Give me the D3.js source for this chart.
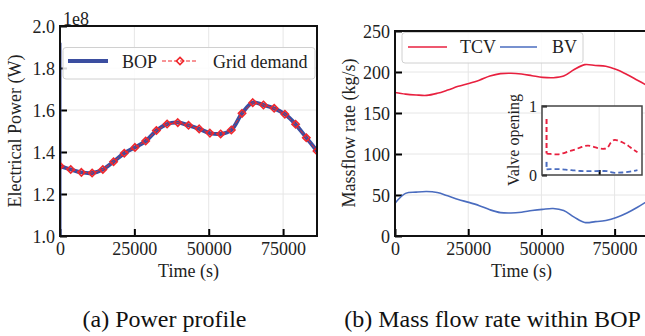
<!DOCTYPE html>
<html>
<head>
<meta charset="utf-8">
<script src="https://cdn.jsdelivr.net/npm/d3@7"></script>
<style>
  body { margin: 0; background: #fff; }
  svg { display: block; font-family: "Liberation Serif", "Times New Roman", serif; }
</style>
</head>
<body>
<div id="chart"></div>
<script>
// Hourly time stamps (s)
var hours = [0, 3600, 7200, 10800, 14400, 18000, 21600, 25200, 28800, 32400, 36000, 39600, 43200,
    46800, 50400, 54000, 57600, 61200, 64800, 68400, 72000, 75600, 79200, 82800, 86400];

// (a) Power profile, in units of 1e8 W
var gridDemand = [1.333, 1.317, 1.303, 1.300, 1.317, 1.354, 1.394, 1.422, 1.452, 1.502, 1.533, 1.540, 1.527,
    1.510, 1.490, 1.486, 1.505, 1.584, 1.635, 1.624, 1.608, 1.580, 1.532, 1.468, 1.405];
var bopPower = [1.333, 1.317, 1.303, 1.300, 1.317, 1.354, 1.394, 1.422, 1.452, 1.502, 1.533, 1.540, 1.527,
    1.510, 1.490, 1.486, 1.505, 1.584, 1.635, 1.624, 1.608, 1.580, 1.532, 1.468, 1.405];
// start-up transient of the BOP at t = 0
var bopStartup = [0.90, 1.92, 1.333];

// (b) Mass flow rate (kg/s)
var tcvFlow = [175, 173, 172, 171.5, 174, 178, 182.5, 186, 190, 195, 198, 198.5, 197.5,
    195.5, 193.5, 193, 195, 203, 209, 208, 207, 203, 197, 190, 183];
var bvFlow = [40, 52, 53.5, 54.3, 53, 49, 44.5, 41, 37, 32, 28.5, 28, 29,
    31, 32.5, 33.5, 31, 23, 16.5, 17.5, 19, 22.5, 28, 35, 43];
var tcvStartup = [225, 175];
var bvStartup = [111, 38, 40];

// Inset: valve opening
var tcvOpening = [0.31, 0.305, 0.30, 0.30, 0.31, 0.325, 0.345, 0.36, 0.38, 0.40, 0.42, 0.425, 0.415,
    0.40, 0.385, 0.38, 0.39, 0.47, 0.51, 0.495, 0.475, 0.445, 0.405, 0.365, 0.33];
var bvOpening = [0.08, 0.085, 0.085, 0.085, 0.083, 0.078, 0.072, 0.068, 0.063, 0.058, 0.055, 0.055, 0.055,
    0.057, 0.058, 0.058, 0.055, 0.042, 0.032, 0.033, 0.036, 0.042, 0.05, 0.06, 0.072];
var tcvOpeningStartup = [0.81, 0.31];
var bvOpeningStartup = [0.19, 0.08];

// Tick values
var timeTicks = [0, 25000, 50000, 75000];
var powerTicks = [1.0, 1.2, 1.4, 1.6, 1.8, 2.0];
var flowTicks = [0, 50, 100, 150, 200, 250];
var insetTimeTicks = [50000];
var insetOpeningTicks = [0, 1];

var width = 645, height = 336;
var gridColor = "#e6e6e6";
var bopColor = "#3b4ea0";
var demandColor = "#f0282d";
var tcvColor = "#e8203f";
var bvColor = "#4a6cbf";

var svg = d3.select("#chart").append("svg")
    .attr("width", width)
    .attr("height", height);

var defs = svg.append("defs");

// Draw grid, ticks and spines for one axes box
function drawAxes(g, x, y, xTicks, yTicks, opts) {
    var x0 = x.range()[0], x1 = x.range()[1];
    var y0 = y.range()[0], y1 = y.range()[1];

    if (opts.background) {
        g.append("rect")
            .attr("x", x0).attr("y", y1)
            .attr("width", x1 - x0).attr("height", y0 - y1)
            .attr("fill", "#fff");
    }

    // grid
    g.selectAll(".gx").data(xTicks).enter().append("line")
        .attr("x1", d => x(d)).attr("x2", d => x(d))
        .attr("y1", y0).attr("y2", y1)
        .attr("stroke", gridColor).attr("stroke-width", 1);
    if (opts.yGrid) {
        g.selectAll(".gy").data(yTicks).enter().append("line")
            .attr("x1", x0).attr("x2", x1)
            .attr("y1", d => y(d)).attr("y2", d => y(d))
            .attr("stroke", gridColor).attr("stroke-width", 1);
    }

    // inward axes
    var xAxis = d3.axisBottom(x).tickValues(xTicks).tickSizeInner(-opts.tick).tickSizeOuter(0)
        .tickFormat(opts.xFormat);
    var yAxis = d3.axisLeft(y).tickValues(yTicks).tickSizeInner(-opts.tick).tickSizeOuter(0)
        .tickFormat(opts.yFormat);

    var gx = g.append("g").attr("transform", "translate(0," + y0 + ")").call(xAxis);
    var gy = g.append("g").attr("transform", "translate(" + x0 + ",0)").call(yAxis);
    [gx, gy].forEach(function (a) {
        a.select(".domain").remove();
        a.selectAll(".tick line").attr("stroke", "#000").attr("stroke-width", 2);
        a.selectAll(".tick text")
            .attr("fill", "#222")
            .style("font-family", "Liberation Serif")
            .style("font-size", opts.font + "px");
    });
    // tick label placement: baseline below the x axis, right edge left of the y axis
    gx.selectAll(".tick text").attr("y", 19).attr("dy", null);
    gy.selectAll(".tick text").attr("x", -5).attr("dy", "0.34em");
    return { gx: gx, gy: gy };
}

function drawSpines(g, x, y, color, w) {
    var x0 = x.range()[0], x1 = x.range()[1];
    var y0 = y.range()[0], y1 = y.range()[1];
    g.append("rect")
        .attr("x", x0).attr("y", y1)
        .attr("width", x1 - x0).attr("height", y0 - y1)
        .attr("fill", "none")
        .attr("stroke", color)
        .attr("stroke-width", w);
}

function clipFor(id, x, y) {
    defs.append("clipPath").attr("id", id).append("rect")
        .attr("x", x.range()[0]).attr("y", y.range()[1])
        .attr("width", x.range()[1] - x.range()[0])
        .attr("height", y.range()[0] - y.range()[1]);
    return "url(#" + id + ")";
}

// ---------------- (a) Power profile ----------------
var xA = d3.scaleLinear().domain([0, 86400]).range([60, 317]);
var yA = d3.scaleLinear().domain([1.0, 2.0]).range([236, 26]);
var gA = svg.append("g");

drawAxes(gA, xA, yA, timeTicks, powerTicks, {
    yGrid: true, tick: 7, font: 18,
    xFormat: d3.format("d"), yFormat: d3.format(".1f")
});

var plotA = gA.append("g").attr("clip-path", clipFor("clipA", xA, yA));

// BOP start-up spike
plotA.append("path")
    .datum(bopStartup)
    .attr("d", d3.line().x(function () { return xA(0); }).y(d => yA(d)))
    .attr("fill", "none").attr("stroke", bopColor).attr("stroke-width", 3);

plotA.append("path")
    .datum(hours.map((t, i) => [t, bopPower[i]]))
    .attr("d", d3.line().x(d => xA(d[0])).y(d => yA(d[1])).curve(d3.curveCatmullRom))
    .attr("fill", "none").attr("stroke", bopColor).attr("stroke-width", 4);

var demandPts = hours.map((t, i) => [t, gridDemand[i]]);
plotA.append("path")
    .datum(demandPts)
    .attr("d", d3.line().x(d => xA(d[0])).y(d => yA(d[1])))
    .attr("fill", "none").attr("stroke", demandColor).attr("stroke-width", 1)
    .attr("stroke-dasharray", "4,2");

var diamond = d3.symbol().type(d3.symbolDiamond2).size(34);
plotA.selectAll(".marker").data(demandPts).enter().append("path")
    .attr("d", diamond)
    .attr("transform", d => "translate(" + xA(d[0]) + "," + yA(d[1]) + ")")
    .attr("fill", "none").attr("stroke", demandColor).attr("stroke-width", 1.6);

drawSpines(gA, xA, yA, "#111", 2);

// offset text and labels
gA.append("text").attr("x", 63).attr("y", 25).text("1e8")
    .style("font-size", "18px").attr("fill", "#222");
gA.append("text").attr("x", 188.5).attr("y", 277).attr("text-anchor", "middle")
    .text("Time (s)").style("font-size", "18px").attr("fill", "#222");
gA.append("text")
    .attr("transform", "translate(21,131) rotate(-90)")
    .attr("text-anchor", "middle")
    .text("Electrical Power (W)").style("font-size", "18px").attr("fill", "#222");

// legend (a)
var legA = gA.append("g");
legA.append("rect").attr("x", 63).attr("y", 47.5).attr("width", 252).attr("height", 31.5)
    .attr("rx", 3).attr("fill", "#fff").attr("fill-opacity", 0.85)
    .attr("stroke", "#d0d0d0").attr("stroke-width", 1);
legA.append("line").attr("x1", 68).attr("x2", 108).attr("y1", 61).attr("y2", 61)
    .attr("stroke", bopColor).attr("stroke-width", 4);
legA.append("text").attr("x", 122).attr("y", 68).text("BOP")
    .style("font-size", "18px").attr("fill", "#222");
legA.append("line").attr("x1", 162).attr("x2", 198).attr("y1", 61).attr("y2", 61)
    .attr("stroke", demandColor).attr("stroke-width", 1).attr("stroke-dasharray", "4,2");
legA.append("path").attr("d", diamond).attr("transform", "translate(180,61)")
    .attr("fill", "none").attr("stroke", demandColor).attr("stroke-width", 1.6);
legA.append("text").attr("x", 213).attr("y", 68).text("Grid demand")
    .style("font-size", "18px").attr("fill", "#222");

// ---------------- (b) Mass flow rate ----------------
var xB = d3.scaleLinear().domain([0, 86400]).range([395, 648]);
var yB = d3.scaleLinear().domain([0, 250]).range([236, 31]);
var gB = svg.append("g");

drawAxes(gB, xB, yB, timeTicks, flowTicks, {
    yGrid: true, tick: 7, font: 18,
    xFormat: d3.format("d"), yFormat: d3.format("d")
});

var plotB = gB.append("g").attr("clip-path", clipFor("clipB", xB, yB));
var flowLine = d3.line().x(d => xB(d[0])).y(d => yB(d[1])).curve(d3.curveCatmullRom);
var startLineB = d3.line().x(function () { return xB(0); }).y(d => yB(d));

plotB.append("path").datum(tcvStartup).attr("d", startLineB)
    .attr("fill", "none").attr("stroke", tcvColor).attr("stroke-width", 1.6);
plotB.append("path").datum(bvStartup).attr("d", startLineB)
    .attr("fill", "none").attr("stroke", bvColor).attr("stroke-width", 1.6);
plotB.append("path").datum(hours.map((t, i) => [t, tcvFlow[i]])).attr("d", flowLine)
    .attr("fill", "none").attr("stroke", tcvColor).attr("stroke-width", 1.6);
plotB.append("path").datum(hours.map((t, i) => [t, bvFlow[i]])).attr("d", flowLine)
    .attr("fill", "none").attr("stroke", bvColor).attr("stroke-width", 1.6);

drawSpines(gB, xB, yB, "#111", 2);

gB.append("text").attr("x", 521.5).attr("y", 277).attr("text-anchor", "middle")
    .text("Time (s)").style("font-size", "18px").attr("fill", "#222");
gB.append("text")
    .attr("transform", "translate(355,133) rotate(-90)")
    .attr("text-anchor", "middle")
    .text("Massflow rate (kg/s)").style("font-size", "18px").attr("fill", "#222");

// legend (b)
var legB = gB.append("g");
legB.append("rect").attr("x", 402).attr("y", 32.5).attr("width", 181).attr("height", 30.5)
    .attr("rx", 3).attr("fill", "#fff").attr("fill-opacity", 0.85)
    .attr("stroke", "#d0d0d0").attr("stroke-width", 1);
legB.append("line").attr("x1", 408).attr("x2", 447).attr("y1", 47).attr("y2", 47)
    .attr("stroke", tcvColor).attr("stroke-width", 1.6);
legB.append("text").attr("x", 460).attr("y", 53).text("TCV")
    .style("font-size", "18px").attr("fill", "#222");
legB.append("line").attr("x1", 500).attr("x2", 537).attr("y1", 47).attr("y2", 47)
    .attr("stroke", bvColor).attr("stroke-width", 1.6);
legB.append("text").attr("x", 552).attr("y", 53).text("BV")
    .style("font-size", "18px").attr("fill", "#222");

// ---------------- inset: valve opening ----------------
var xI = d3.scaleLinear().domain([-4320, 90720]).range([542, 642]);
var yI = d3.scaleLinear().domain([0, 1]).range([175, 106]);
var gI = svg.append("g");

drawAxes(gI, xI, yI, insetTimeTicks, insetOpeningTicks, {
    background: true, yGrid: false, tick: 5, font: 16,
    xFormat: function () { return ""; }, yFormat: d3.format("d")
});

var plotI = gI.append("g").attr("clip-path", clipFor("clipI", xI, yI));
var openLine = d3.line().x(d => xI(d[0])).y(d => yI(d[1])).curve(d3.curveCatmullRom);
var startLineI = d3.line().x(function () { return xI(0); }).y(d => yI(d));

plotI.append("path").datum(tcvOpeningStartup).attr("d", startLineI)
    .attr("fill", "none").attr("stroke", tcvColor).attr("stroke-width", 2).attr("stroke-dasharray", "5,3");
plotI.append("path").datum(bvOpeningStartup).attr("d", startLineI)
    .attr("fill", "none").attr("stroke", bvColor).attr("stroke-width", 2).attr("stroke-dasharray", "5,3");
plotI.append("path").datum(hours.map((t, i) => [t, tcvOpening[i]])).attr("d", openLine)
    .attr("fill", "none").attr("stroke", tcvColor).attr("stroke-width", 1.8).attr("stroke-dasharray", "5,3");
plotI.append("path").datum(hours.map((t, i) => [t, bvOpening[i]])).attr("d", openLine)
    .attr("fill", "none").attr("stroke", bvColor).attr("stroke-width", 1.8).attr("stroke-dasharray", "5,3");

drawSpines(gI, xI, yI, "#444", 1.5);

gI.append("text")
    .attr("transform", "translate(519,140) rotate(-90)")
    .attr("text-anchor", "middle")
    .text("Valve opening").style("font-size", "16px").attr("fill", "#222");

// ---------------- captions ----------------
svg.append("text").attr("x", 164.5).attr("y", 327).attr("text-anchor", "middle")
    .text("(a) Power profile").style("font-size", "24px").attr("fill", "#111");
svg.append("text").attr("x", 492.5).attr("y", 327).attr("text-anchor", "middle")
    .text("(b) Mass flow rate within BOP").style("font-size", "24px").attr("fill", "#111");
</script>
</body>
</html>
